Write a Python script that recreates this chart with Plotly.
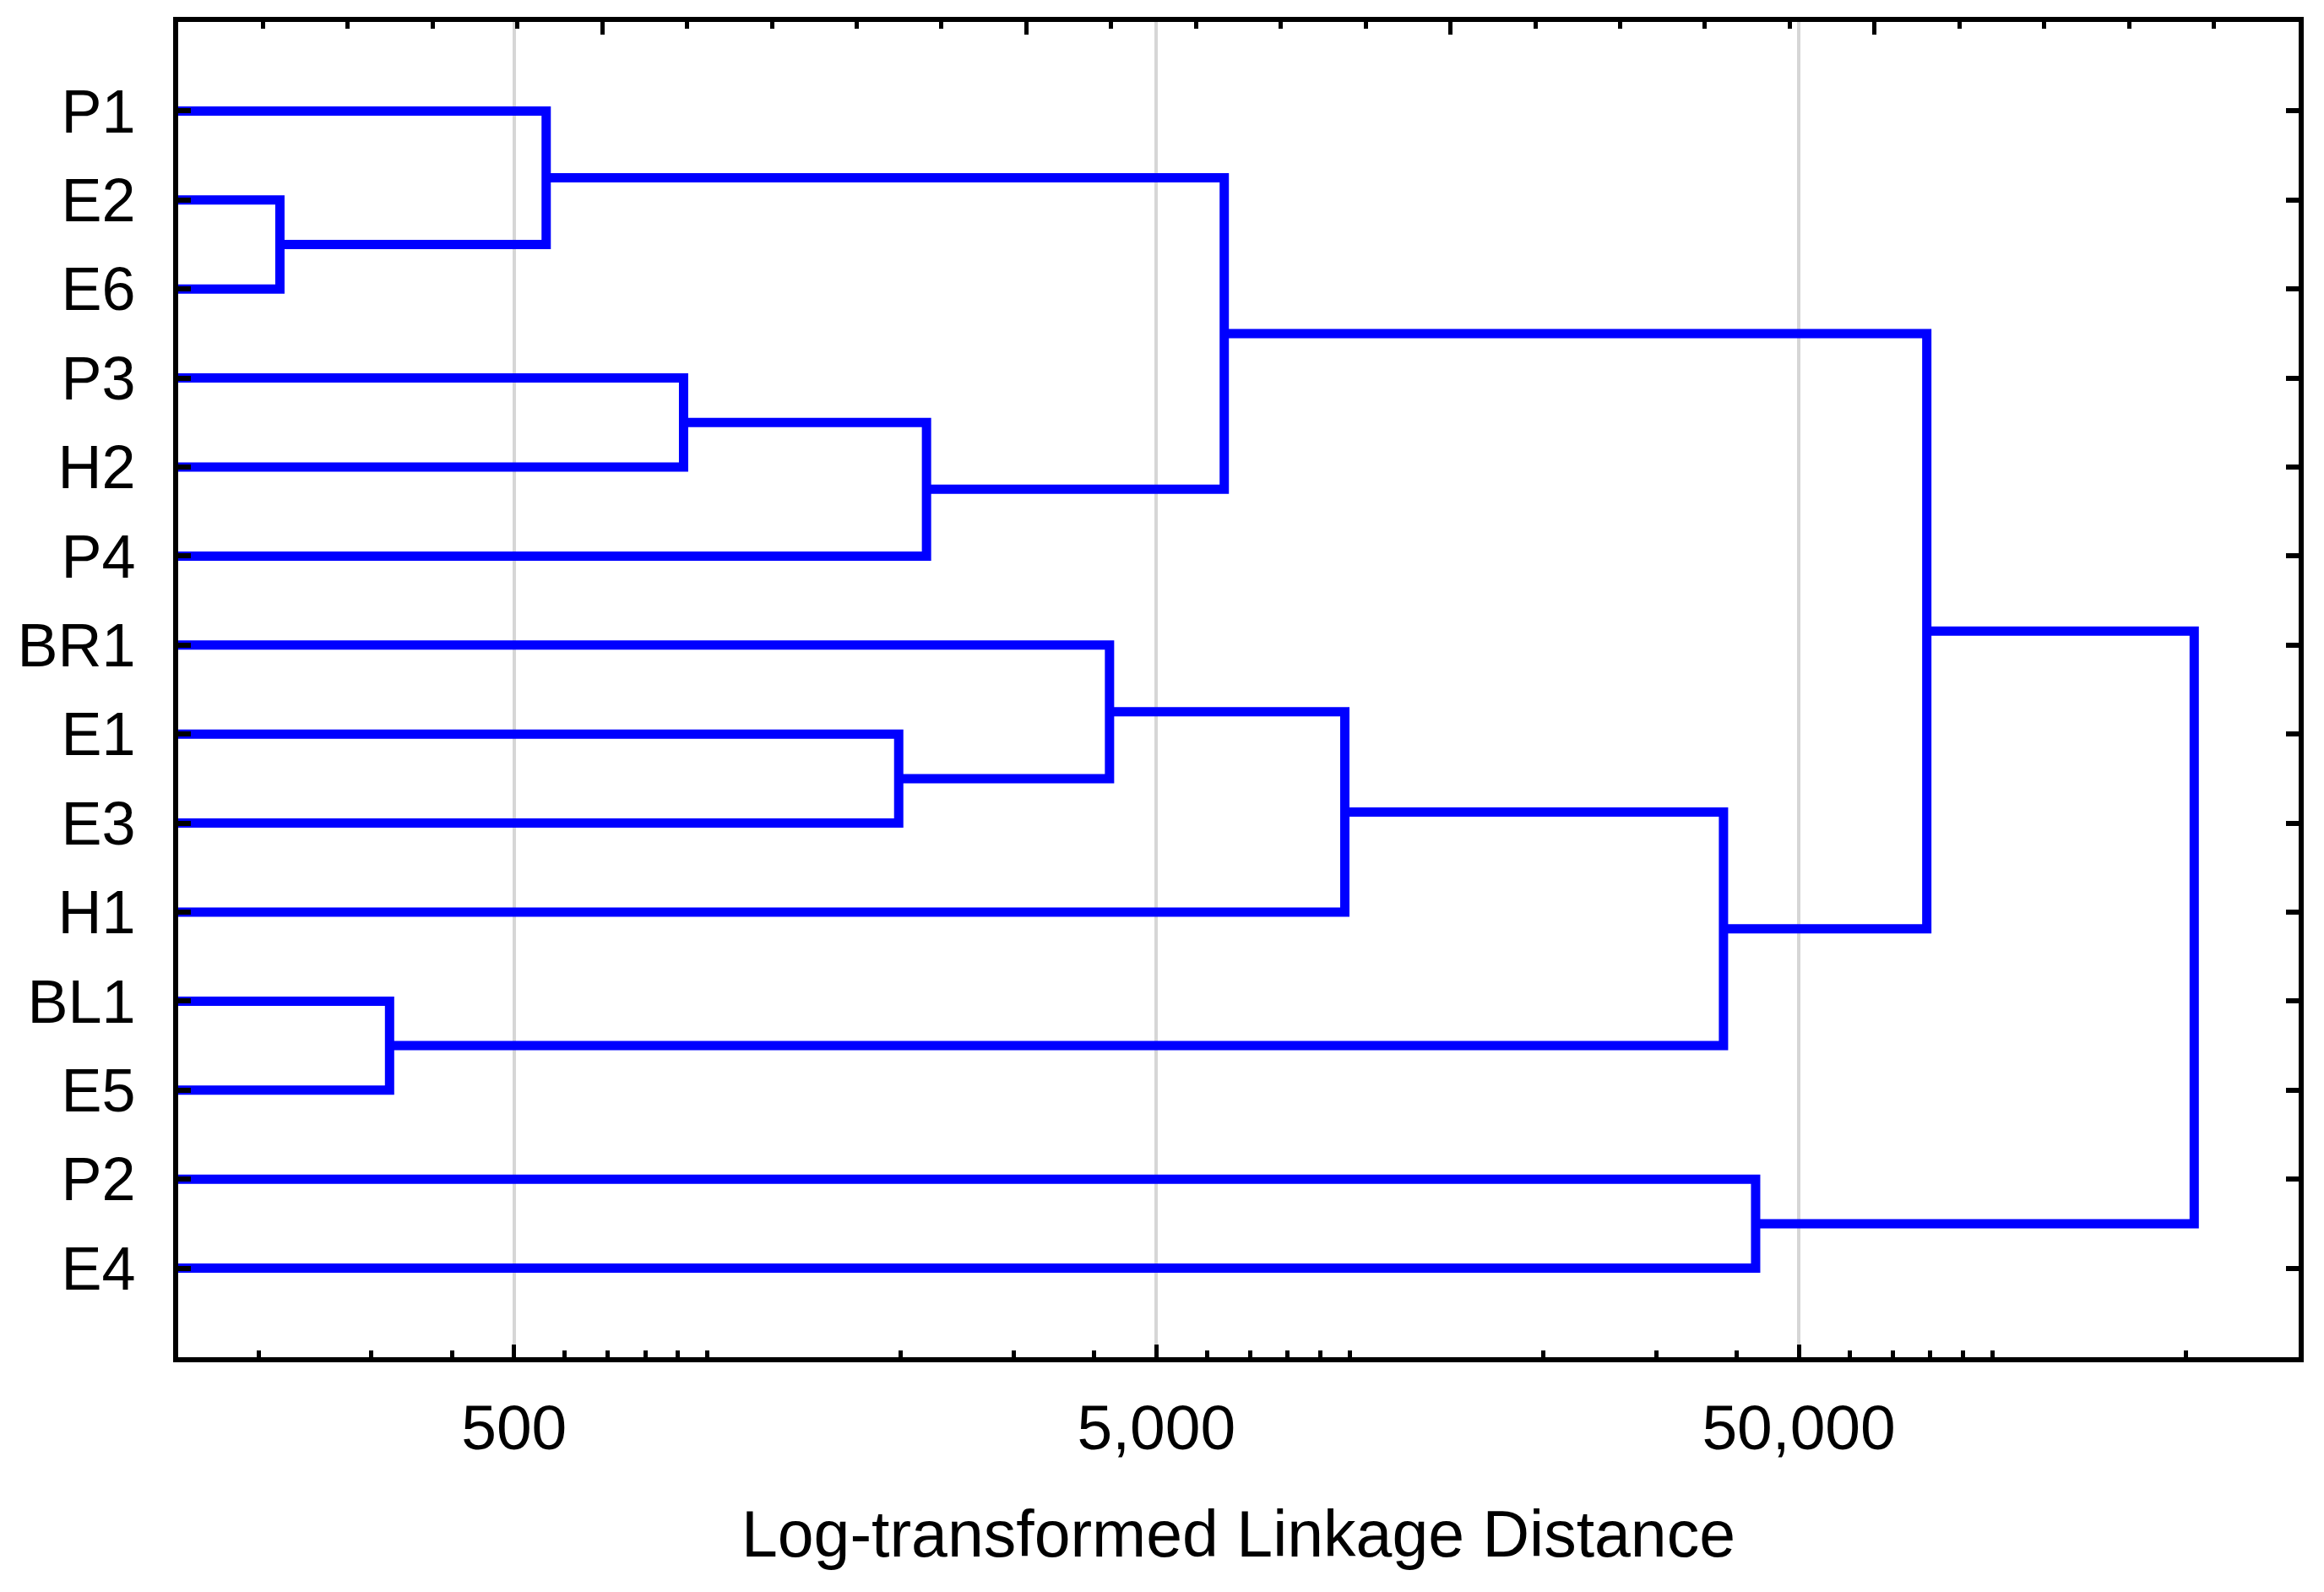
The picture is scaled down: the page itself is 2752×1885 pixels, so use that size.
import math
import plotly.graph_objects as go

# ---------------- data ----------------
leaves = ["P1", "E2", "E6", "P3", "H2", "P4", "BR1", "E1", "E3", "H1", "BL1", "E5", "P2", "E4"]

# merges: (child_a, child_b, linkage distance); "#k" refers to the k-th merge
merge_a = ["E2", "P1", "P3", "#2", "#1", "E1", "BR1", "#6", "BL1", "#7", "P2", "#4", "#11"]
merge_b = ["E6", "#0", "H2", "P4", "#3", "E3", "#5", "H1", "E5", "#8", "E4", "#9", "#10"]
merge_dist = [216, 561, 918, 2193, 6376, 1985, 4226, 9823, 320, 38170, 42830, 79110, 206300]

x_tick_vals = [500, 5000, 50000]
x_tick_text = ["500", "5,000", "50,000"]
x_title = "Log-transformed Linkage Distance"

X_MIN, X_MAX = 150, 300000

# ---------------- build dendrogram ----------------
leaf_y = {name: i + 1 for i, name in enumerate(leaves)}
node_pos = {}  # id -> (x, y)
for name in leaves:
    node_pos[name] = (X_MIN, leaf_y[name])

fig = go.Figure()
BLUE = "#0000FF"
for k, (a, b, d) in enumerate(zip(merge_a, merge_b, merge_dist)):
    xa, ya = node_pos[a]
    xb, yb = node_pos[b]
    fig.add_trace(go.Scatter(
        x=[xa, d, d, xb], y=[ya, ya, yb, yb],
        mode="lines", line=dict(color=BLUE, width=11),
        hoverinfo="skip", showlegend=False, xaxis="x", yaxis="y",
    ))
    node_pos["#%d" % k] = (d, (ya + yb) / 2)

# invisible trace for the top (secondary) axis
fig.add_trace(go.Scatter(x=[0, 5], y=[0, 0], mode="markers", marker=dict(opacity=0),
                         hoverinfo="skip", showlegend=False, xaxis="x2", yaxis="y"))

minor_vals = [m * 10 ** e for e in range(2, 6) for m in range(1, 10)
              if X_MIN <= m * 10 ** e <= X_MAX and m * 10 ** e not in x_tick_vals]

FONT = "Liberation Sans, Arial, sans-serif"

fig.update_layout(
    width=2736, height=1869,
    margin=dict(l=203, r=22, t=18, b=270),
    paper_bgcolor="white", plot_bgcolor="white",
    font=dict(family=FONT, color="black"),
    xaxis=dict(
        type="log", range=[math.log10(X_MIN), math.log10(X_MAX)],
        tickmode="array", tickvals=x_tick_vals, ticktext=x_tick_text,
        ticks="inside", ticklen=15, tickwidth=5, tickcolor="black",
        showgrid=True, gridcolor="#d6d6d6", gridwidth=4,
        showline=True, linecolor="black", linewidth=6, mirror=True,
        zeroline=False,
        tickfont=dict(size=75, family=FONT, color="black"),
        ticklabelstandoff=13,
        minor=dict(tickmode="array", tickvals=minor_vals, ticks="inside",
                   ticklen=8, tickwidth=5, tickcolor="black", showgrid=False),
        title=dict(text=x_title, font=dict(size=77, family=FONT, color="black"), standoff=60),
    ),
    xaxis2=dict(
        overlaying="x", side="top", anchor="y", range=[0, 5],
        tickmode="linear", tick0=0, dtick=1,
        ticks="inside", ticklen=15, tickwidth=5, tickcolor="black",
        showticklabels=False, showgrid=False, zeroline=False, showline=False,
        minor=dict(tickmode="linear", tick0=0, dtick=0.2, ticks="inside",
                   ticklen=8, tickwidth=5, tickcolor="black", showgrid=False),
    ),
    yaxis=dict(
        range=[15, 0], tickmode="array",
        tickvals=[leaf_y[n] for n in leaves], ticktext=leaves,
        ticks="inside", ticklen=15, tickwidth=6, tickcolor="black",
        showgrid=False, zeroline=False,
        showline=True, linecolor="black", linewidth=6, mirror="ticks",
        tickfont=dict(size=72, family=FONT, color="black"),
        ticklabelstandoff=30,
    ),
)

fig.write_html("out.html")
